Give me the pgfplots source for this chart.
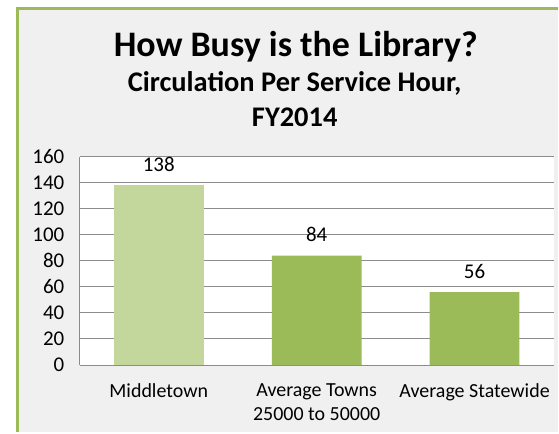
\documentclass[border=0pt]{standalone}
\usepackage{pgfplots}
\pgfplotsset{compat=1.18}
\usepackage{fontspec}
\setmainfont{Carlito}
\definecolor{bg}{HTML}{F0F0F0}
\definecolor{frame}{HTML}{9BBB59}
\definecolor{barA}{HTML}{C3D69B}
\definecolor{barB}{HTML}{9BBB59}
\definecolor{gridc}{HTML}{8C8C8C}
\begin{document}
\begin{tikzpicture}[x=1pt,y=1pt]
\fill[white] (0,0) rectangle (559,433);
\fill[bg] (17,0) rectangle (559,425);
\draw[frame, line width=3pt] (17.5,0) -- (17.5,424.5) -- (559,424.5);
\node[anchor=base, font=\bfseries\fontsize{36}{40}\selectfont] at (296.5,376) {How Busy is the Library?};
\node[anchor=base, font=\bfseries\fontsize{28.5}{32}\selectfont] at (295.5,341) {Circulation Per Service Hour,};
\node[anchor=base, font=\bfseries\fontsize{28.5}{32}\selectfont] at (295.5,306) {FY2014};
\begin{axis}[at={(80pt,67pt)}, anchor=south west, scale only axis,
  width=475pt, height=209pt,
  ymin=0, ymax=160, ytick={0,20,...,160},
  yticklabels={0,20,40,60,80,100,120,140,160},
  xmin=-0.5, xmax=2.5, xtick={0,1,2},
  xticklabels={Middletown,{Average Towns\\25000 to 50000},Average Statewide},
  xticklabel style={align=center, font=\fontsize{20}{24}\selectfont, yshift=-15pt},
  yticklabel style={font=\fontsize{21}{24}\selectfont, xshift=-12pt},
  ymajorgrids, grid style={gridc, line width=1pt},
  axis x line=bottom, axis y line=left,
  axis line style={gridc, line width=1pt, -},
  major tick length=0pt,
  axis background/.style={fill=white},
  ybar, bar width=90pt,
  nodes near coords,
  nodes near coords style={font=\fontsize{21}{24}\selectfont, text=black, yshift=10pt, /pgf/number format/assume math mode=true},
  clip=false,
]
\addplot[bar shift=0pt, fill=barA, draw=none] coordinates {(0,138)};
\addplot[bar shift=0pt, fill=barB, draw=none] coordinates {(1,84) (2,56)};
\end{axis}
\end{tikzpicture}
\end{document}
